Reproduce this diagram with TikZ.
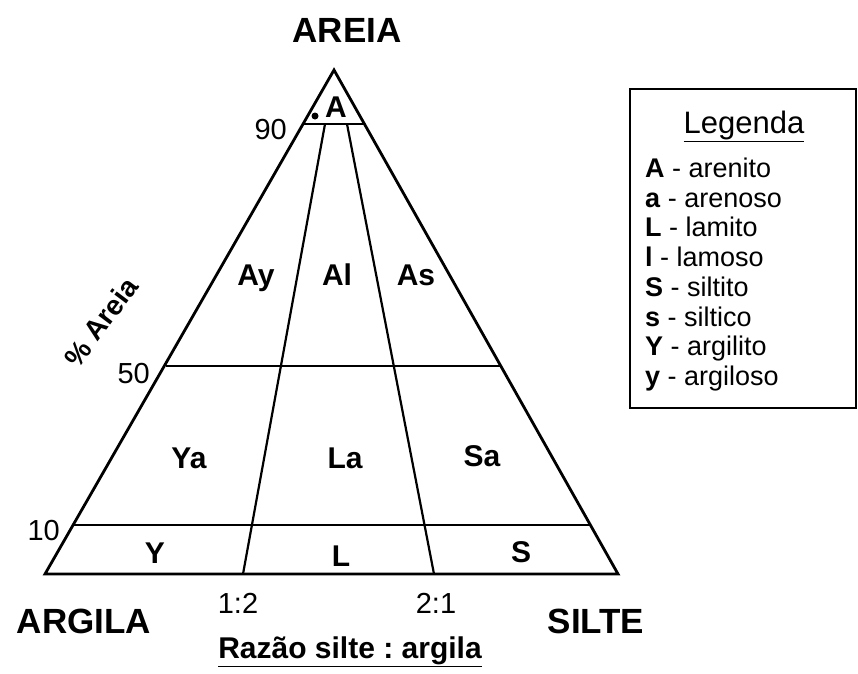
\documentclass[tikz,border=0pt]{standalone}
\usepackage{fontspec}
\setmainfont{Liberation Sans}
\frenchspacing
\begin{document}
\begin{tikzpicture}[x=1pt,y=-1pt,
  edge/.style={line width=2.8pt,line join=miter},
  inner/.style={line width=2.2pt},
  big/.style={font=\fontsize{35}{38}\selectfont\bfseries,anchor=base},
  region/.style={font=\fontsize{30}{33}\selectfont\bfseries,anchor=base,inner sep=0pt},
  num/.style={font=\fontsize{29}{32}\selectfont,inner sep=0pt},
  legitem/.style={font=\fontsize{27}{30}\selectfont,anchor=base west,inner sep=0pt}]
\useasboundingbox (0,0) rectangle (858,673);
% triangle corners
\coordinate (T) at (334,70);
\coordinate (BL) at (45,574);
\coordinate (BR) at (618,574);
\coordinate (L90) at (304,124);
\coordinate (R90) at (364,124);
\coordinate (L50) at (166,366);
\coordinate (R50) at (500,366);
\coordinate (L10) at (73,525);
\coordinate (R10) at (590,525);
\coordinate (P1t) at (325,124);
\coordinate (P1b) at (243,574);
\coordinate (P2t) at (347,124);
\coordinate (P2b) at (434,574);
\draw[edge] (T) -- (BL) -- (BR) -- cycle;
\draw[inner] (L90) -- (R90);
\draw[inner] (L50) -- (R50);
\draw[inner] (L10) -- (R10);
\draw[inner] (P1t) -- (P1b);
\draw[inner] (P2t) -- (P2b);
\fill (315,116) circle (3.5pt);
% titles
\node[big] (areia) at (347,42) {AREIA};
\node[big] (argila) at (84,633) {ARGILA};
\node[big] (silte) at (596,633) {SILTE};
\node[num,anchor=base] (r12) at (238,613) {1:2};
\node[num,anchor=base] (r21) at (436,613) {2:1};
\node[font=\fontsize{30}{33}\selectfont\bfseries,anchor=base,inner sep=0pt] (razao) at (350,658) {\underline{Razão silte : argila}};
% percentages
\node[num,anchor=base east] (n90) at (287,139) {90};
\node[num,anchor=base east] (n50) at (150,383) {50};
\node[num,anchor=base east] (n10) at (60,540) {10};
\node[font=\fontsize{28}{30}\selectfont\bfseries,rotate=53,inner sep=0pt] (pct) at (101,322) {\% Areia};
% regions
\node[region] (rA) at (336,117) {A};
\node[region] (rAy) at (256,285) {Ay};
\node[region] (rAl) at (337,285) {Al};
\node[region] (rAs) at (416,285) {As};
\node[region] (rYa) at (189,468) {Ya};
\node[region] (rLa) at (345,468) {La};
\node[region] (rSa) at (482,466) {Sa};
\node[region] (rY) at (155,563) {Y};
\node[region] (rL) at (341,566) {L};
\node[region] (rS) at (521,562) {S};
% legend
\draw[line width=1.8pt] (630,89) rectangle (856,408);
\node[font=\fontsize{31}{33}\selectfont,anchor=base,inner sep=0pt] (leg) at (744,133) {\underline{Legenda}};
\node[legitem] (l1) at (645,177) {\textbf{A} - arenito};
\node[legitem] (l2) at (645,207) {\textbf{a} - arenoso};
\node[legitem] (l3) at (645,236) {\textbf{L} - lamito};
\node[legitem] (l4) at (645,266) {\textbf{l} - lamoso};
\node[legitem] (l5) at (645,296) {\textbf{S} - siltito};
\node[legitem] (l6) at (645,326) {\textbf{s} - siltico};
\node[legitem] (l7) at (645,355) {\textbf{Y} - argilito};
\node[legitem] (l8) at (645,385) {\textbf{y} - argiloso};
\end{tikzpicture}
\end{document}
